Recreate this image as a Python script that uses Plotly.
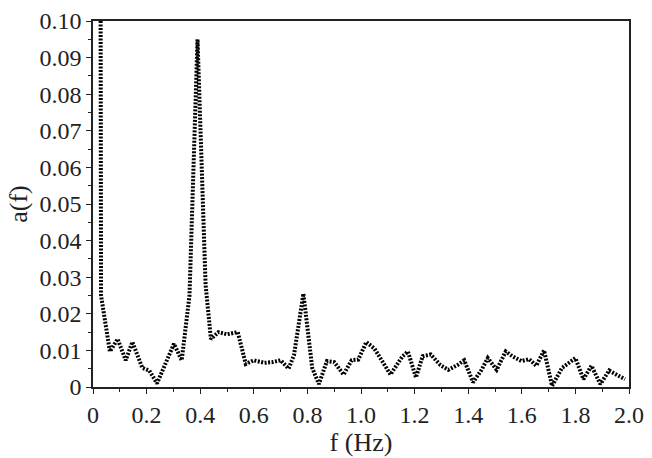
import plotly.graph_objects as go

freq = [0.0, 0.03, 0.063, 0.092, 0.122, 0.147, 0.184, 0.21, 0.239, 0.302, 0.331,
        0.36, 0.39, 0.42, 0.44, 0.468, 0.50, 0.54, 0.57, 0.60, 0.64, 0.67, 0.70,
        0.73, 0.75, 0.785, 0.818, 0.843, 0.873, 0.90, 0.935, 0.965, 0.99, 1.02,
        1.05, 1.08, 1.11, 1.155, 1.175, 1.205, 1.23, 1.26, 1.296, 1.326, 1.36,
        1.385, 1.418, 1.45, 1.473, 1.506, 1.54, 1.565, 1.598, 1.628, 1.654,
        1.683, 1.713, 1.75, 1.80, 1.83, 1.86, 1.893, 1.926, 1.96, 1.985]
amp = [1.5, 0.025, 0.0097, 0.0131, 0.0073, 0.0123, 0.0052, 0.0045, 0.001, 0.0118, 0.0073,
       0.025, 0.095, 0.028, 0.0131, 0.015, 0.0144, 0.015, 0.0063, 0.0073, 0.0066, 0.0068, 0.0073,
       0.005, 0.0087, 0.0255, 0.0052, 0.0008, 0.0071, 0.0068, 0.0034, 0.0073, 0.0075, 0.0123,
       0.0105, 0.0071, 0.0034, 0.0084, 0.0097, 0.0026, 0.0084, 0.0089, 0.006, 0.0047, 0.006,
       0.0073, 0.0013, 0.0047, 0.0079, 0.0047, 0.0097, 0.0084, 0.0071, 0.0076, 0.0058,
       0.010, 0.0003, 0.0052, 0.0079, 0.0021, 0.0058, 0.0008, 0.0045, 0.0031, 0.0021]

x_ticks = [0, 0.2, 0.4, 0.6, 0.8, 1.0, 1.2, 1.4, 1.6, 1.8, 2.0]
x_labels = ["0", "0.2", "0.4", "0.6", "0.8", "1.0", "1.2", "1.4", "1.6", "1.8", "2.0"]
y_ticks = [0, 0.01, 0.02, 0.03, 0.04, 0.05, 0.06, 0.07, 0.08, 0.09, 0.1]
y_labels = ["0", "0.01", "0.02", "0.03", "0.04", "0.05", "0.06", "0.07", "0.08", "0.09", "0.10"]

fig = go.Figure()
fig.add_trace(go.Scatter(x=freq, y=amp, mode="lines",
                         line=dict(color="black", width=4, dash="2px,1.5px"),
                         showlegend=False))

serif = "Times New Roman, Liberation Serif, serif"
font = dict(family=serif, size=24, color="#222")
title_font = dict(family=serif, size=26, color="#222")
axis_common = dict(showgrid=False, zeroline=False, showline=True, linecolor="#222",
                   linewidth=1.5, mirror=True, ticks="outside", ticklen=5, tickwidth=1.2,
                   tickcolor="#222", tickfont=dict(family=serif, size=24, color="#222"),
                   ticklabeloverflow="allow")
fig.update_layout(
    width=652, height=458,
    margin=dict(l=93, r=16, t=8, b=68),
    paper_bgcolor="white", plot_bgcolor="white",
    font=font,
    xaxis=dict(range=[0, 2.0], tickvals=x_ticks, ticktext=x_labels,
               minor=dict(dtick=0.1, ticks="outside", ticklen=3, tickcolor="#222", tickwidth=1),
               title=dict(text="f (Hz)", standoff=4, font=title_font), **axis_common),
    yaxis=dict(range=[0, 0.1], tickvals=y_ticks, ticktext=y_labels,
               minor=dict(dtick=0.005, ticks="outside", ticklen=3, tickcolor="#222", tickwidth=1),
               title=dict(text="a(f)", standoff=4, font=title_font), **axis_common),
)
fig.write_html("out.html")
